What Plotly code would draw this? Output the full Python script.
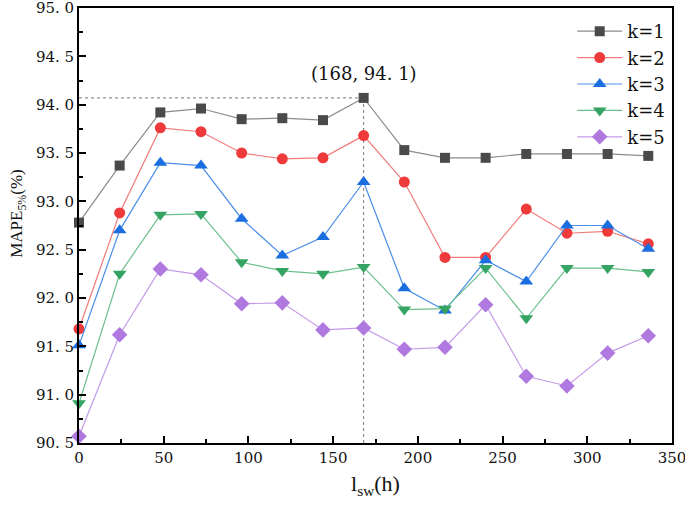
import plotly.graph_objects as go

x_vals = [0, 24, 48, 72, 96, 120, 144, 168, 192, 216, 240, 264, 288, 312, 336]
k1 = [92.78, 93.37, 93.92, 93.96, 93.85, 93.86, 93.84, 94.07, 93.53, 93.45, 93.45, 93.49, 93.49, 93.49, 93.47]
k2 = [91.68, 92.88, 93.76, 93.72, 93.50, 93.44, 93.45, 93.68, 93.20, 92.42, 92.42, 92.92, 92.67, 92.69, 92.56]
k3 = [91.51, 92.70, 93.40, 93.37, 92.82, 92.44, 92.63, 93.20, 92.10, 91.87, 92.39, 92.17, 92.75, 92.75, 92.51]
k4 = [90.91, 92.25, 92.86, 92.87, 92.37, 92.28, 92.25, 92.32, 91.88, 91.89, 92.31, 91.79, 92.31, 92.31, 92.27]
k5 = [90.57, 91.62, 92.30, 92.24, 91.94, 91.95, 91.67, 91.69, 91.47, 91.49, 91.93, 91.19, 91.09, 91.43, 91.61]
series_names = ["k=1", "k=2", "k=3", "k=4", "k=5"]

peak_x = 168
peak_y = 94.07
peak_label = "(168, 94. 1)"

y_tickvals = [90.5, 91.0, 91.5, 92.0, 92.5, 93.0, 93.5, 94.0, 94.5, 95.0]
y_ticktext = ["90. 5", "91. 0", "91. 5", "92. 0", "92. 5", "93. 0", "93. 5", "94. 0", "94. 5", "95. 0"]
x_tickvals = [0, 50, 100, 150, 200, 250, 300, 350]

styles = [
    dict(line="#8c8c8c", marker="#4a4a4a", symbol="square", size=10),
    dict(line="#f27a7a", marker="#ee3a3a", symbol="circle", size=11),
    dict(line="#4a8ee8", marker="#1a6ee0", symbol="triangle-up", size=12),
    dict(line="#6cc08c", marker="#35a463", symbol="triangle-down", size=12),
    dict(line="#c39ae8", marker="#b079e0", symbol="diamond", size=12),
]

serif = "DejaVu Serif"
times = "Liberation Serif"

fig = go.Figure()

# dotted guide lines (drawn from peak data)
fig.add_trace(go.Scatter(x=[0, peak_x], y=[peak_y, peak_y], mode="lines",
                         line=dict(color="#777777", width=1, dash="dot"),
                         showlegend=False, hoverinfo="skip"))
fig.add_trace(go.Scatter(x=[peak_x, peak_x], y=[90.5, peak_y], mode="lines",
                         line=dict(color="#777777", width=1, dash="dot"),
                         showlegend=False, hoverinfo="skip"))

for name, ys, st in zip(series_names, [k1, k2, k3, k4, k5], styles):
    fig.add_trace(go.Scatter(
        x=x_vals, y=ys, mode="lines+markers", name=name,
        line=dict(color=st["line"], width=1.2),
        marker=dict(color=st["marker"], symbol=st["symbol"], size=st["size"],
                    line=dict(width=0)),
        cliponaxis=False,
    ))

fig.add_annotation(x=peak_x, y=peak_y, text=peak_label, showarrow=False,
                   yanchor="bottom", yshift=12, xshift=0,
                   font=dict(family=serif, size=18, color="#111111"))

# y-axis title as annotation (sits slightly above the axis centre, as in the reference)
fig.add_annotation(xref="paper", yref="paper", x=-0.103, y=0.529,
                   text="MAPE<sub>5%</sub>(%)", textangle=-90, showarrow=False,
                   xanchor="center", yanchor="middle",
                   font=dict(family=times, size=17, color="#111111"))

fig.update_layout(
    width=685, height=507,
    margin=dict(l=79, r=13, t=8, b=64, autoexpand=False),
    plot_bgcolor="white", paper_bgcolor="white",
    font=dict(family=serif, size=15, color="#111111"),
    legend=dict(x=0.997, y=0.9885, xanchor="right", yanchor="top",
                bgcolor="rgba(0,0,0,0)", font=dict(size=18, family=serif),
                tracegroupgap=0, itemwidth=45),
    xaxis=dict(
        range=[0, 350], tickvals=x_tickvals, ticks="inside", ticklen=7,
        tickwidth=1.5, tickcolor="black", ticklabeloverflow="allow",
        showline=True, linecolor="black", linewidth=1.8, mirror=True,
        showgrid=False, zeroline=False,
        minor=dict(ticks="inside", ticklen=4, tickwidth=1.5, dtick=25, tickcolor="black"),
        tickfont=dict(size=15, family=serif),
        title=dict(text="l<sub>sw</sub>(h)", font=dict(size=22, family=times), standoff=10),
    ),
    yaxis=dict(
        range=[90.5, 95.0], tickvals=y_tickvals, ticktext=y_ticktext,
        ticks="inside", ticklen=7, tickwidth=1.5, tickcolor="black", ticklabeloverflow="allow",
        showline=True, linecolor="black", linewidth=1.8, mirror=True,
        showgrid=False, zeroline=False,
        minor=dict(ticks="inside", ticklen=4, tickwidth=1.5, dtick=0.25, tickcolor="black"),
        tickfont=dict(size=15, family=serif),
    ),
)

fig.write_html("out.html", config={"displayModeBar": False},
               post_script="document.body.style.margin='0';")
